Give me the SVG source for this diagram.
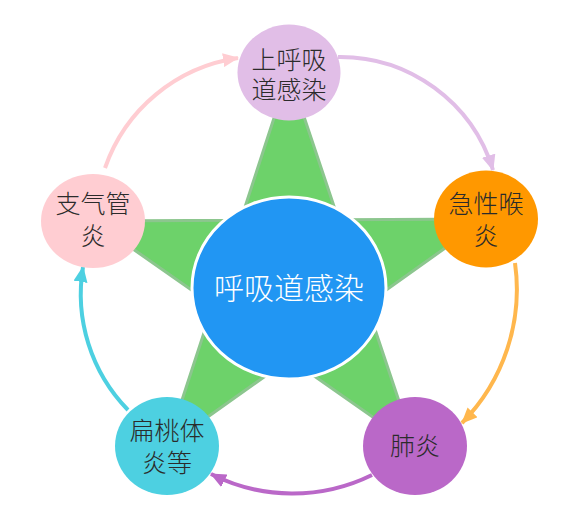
<svg xmlns="http://www.w3.org/2000/svg" width="567" height="526" viewBox="0 0 567 526">
<style>
  .lbl{font-family:"Liberation Sans","Noto Sans CJK SC","Noto Sans CJK JP",sans-serif;font-size:25px;font-weight:300;fill:#2b2b2b;text-anchor:middle}
  .main{font-family:"Liberation Sans","Noto Sans CJK SC","Noto Sans CJK JP",sans-serif;font-size:30px;font-weight:300;fill:#ffffff;text-anchor:middle}
  .arc{fill:none;stroke-width:4}
</style>
<defs>
  <marker id="mPink" markerUnits="userSpaceOnUse" markerWidth="16" markerHeight="14" viewBox="0 0 16 14" refX="15" refY="7" orient="auto"><path d="M0,0 L16,7 L0,14 z" fill="#ffcdd2"/></marker>
  <marker id="mLav" markerUnits="userSpaceOnUse" markerWidth="16" markerHeight="14" viewBox="0 0 16 14" refX="15" refY="7" orient="auto"><path d="M0,0 L16,7 L0,14 z" fill="#e1bee7"/></marker>
  <marker id="mOrange" markerUnits="userSpaceOnUse" markerWidth="16" markerHeight="14" viewBox="0 0 16 14" refX="15" refY="7" orient="auto"><path d="M0,0 L16,7 L0,14 z" fill="#ffb74d"/></marker>
  <marker id="mPurple" markerUnits="userSpaceOnUse" markerWidth="16" markerHeight="14" viewBox="0 0 16 14" refX="15" refY="7" orient="auto"><path d="M0,0 L16,7 L0,14 z" fill="#ba68c8"/></marker>
  <marker id="mCyan" markerUnits="userSpaceOnUse" markerWidth="16" markerHeight="14" viewBox="0 0 16 14" refX="15" refY="7" orient="auto"><path d="M0,0 L16,7 L0,14 z" fill="#4dd0e1"/></marker>
</defs>
<rect width="567" height="526" fill="#ffffff"/>
<g id="star">
  <polygon points="289,72 338.5,219.8 486,219 366.5,304 414,446 289.6,358.8 167,446 213,305.1 93,221 240.7,220.2" fill="#6dd26a" stroke="#8cc68e" stroke-width="3" stroke-linejoin="miter"/>
</g>
<g id="connectors">
  <path class="arc" d="M105,168 A166,166 0 0 1 238,58" stroke="#ffcdd2" marker-end="url(#mPink)"/>
  <path class="arc" d="M338,57 A160,160 0 0 1 493,170" stroke="#e1bee7" marker-end="url(#mLav)"/>
  <path class="arc" d="M515,263 A190,190 0 0 1 462,423" stroke="#ffb74d" marker-end="url(#mOrange)"/>
  <path class="arc" d="M372,475 A180,180 0 0 1 211,474" stroke="#ba68c8" marker-end="url(#mPurple)"/>
  <path class="arc" d="M128,410 A166,166 0 0 1 83,267" stroke="#4dd0e1" marker-end="url(#mCyan)"/>
</g>
<g id="center">
  <ellipse cx="289" cy="288" rx="97" ry="91" fill="#2196f3" stroke="#ffffff" stroke-width="3"/>
  <text class="main" x="289" y="299">呼吸道感染</text>
</g>
<g id="node-top">
  <ellipse cx="289" cy="72.5" rx="51.5" ry="48" fill="#e1bee7"/>
  <text class="lbl" x="289" y="68.5">上呼吸</text>
  <text class="lbl" x="289" y="98.5">道感染</text>
</g>
<g id="node-right">
  <ellipse cx="486" cy="219" rx="52" ry="48.5" fill="#ff9800"/>
  <text class="lbl" x="486" y="212.5">急性喉</text>
  <text class="lbl" x="486" y="244.5">炎</text>
</g>
<g id="node-bottom-right">
  <ellipse cx="415" cy="446" rx="52" ry="49" fill="#ba68c8"/>
  <text class="lbl" x="415" y="454.5">肺炎</text>
</g>
<g id="node-bottom-left">
  <ellipse cx="167" cy="446" rx="52" ry="49" fill="#4dd0e1"/>
  <text class="lbl" x="167" y="439.5">扁桃体</text>
  <text class="lbl" x="167" y="471.5">炎等</text>
</g>
<g id="node-left">
  <ellipse cx="93" cy="221" rx="52" ry="47" fill="#ffcdd2"/>
  <text class="lbl" x="93" y="212.5">支气管</text>
  <text class="lbl" x="93" y="244.5">炎</text>
</g>
</svg>
